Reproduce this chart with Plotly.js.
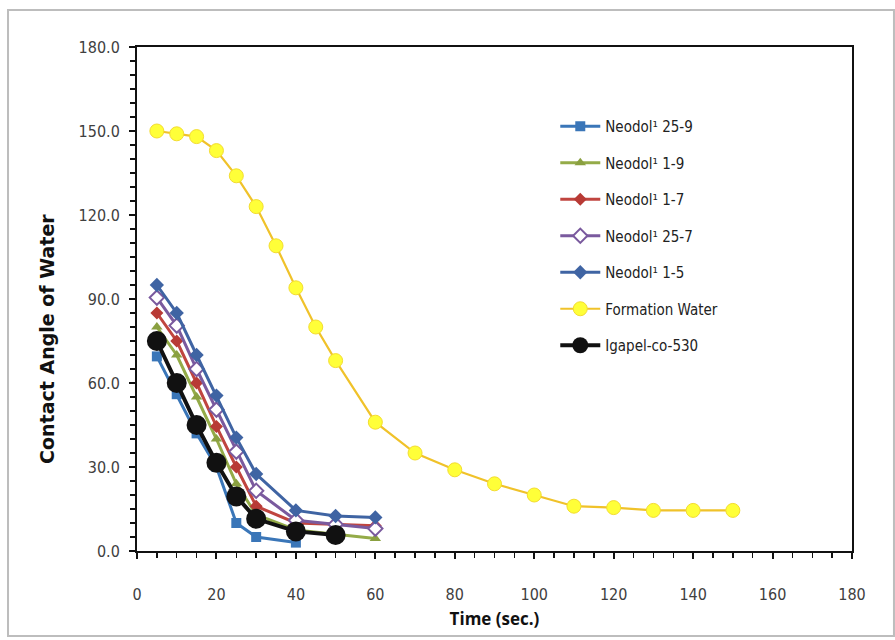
<!DOCTYPE html>
<html>
<head>
<meta charset="utf-8">
<script src="https://cdn.plot.ly/plotly-3.0.1.min.js"></script>
<style>html,body{margin:0;padding:0;background:#fff;}#chart{width:895px;height:640px;}</style>
</head>
<body>
<div id="chart"></div>
<script>
// Time (sec.)
const timeShort = [5, 10, 15, 20, 25, 30, 40, 50, 60];
const time2599 = [5, 10, 15, 20, 25, 30, 40];
const timeIgepal = [5, 10, 15, 20, 25, 30, 40, 50];
const timeFormation = [5, 10, 15, 20, 25, 30, 35, 40, 45, 50, 60, 70, 80, 90, 100, 110, 120, 130, 140, 150];

// Contact angle of water
const neodol259 = [69.5, 56, 42, 30, 10, 5, 3];
const neodol19 = [80, 70, 55, 40, 24, 13, 7.5, 6, 4.5];
const neodol17 = [85, 75, 60, 44.5, 30, 16, 10, 9.5, 9];
const neodol257 = [90.5, 80.5, 65, 50.5, 35.5, 21.5, 11, 9.5, 8];
const neodol15 = [95, 85, 70, 55.5, 40.5, 27.5, 14.5, 12.5, 12];
const formationWater = [150, 149, 148, 143, 134, 123, 109, 94, 80, 68, 46, 35, 29, 24, 20, 16, 15.5, 14.5, 14.5, 14.5];
const igepal530 = [75, 60, 45, 31.5, 19.5, 11.5, 7, 5.7];

const seriesNames = ["Neodol\u00B9 25-9", "Neodol\u00B9 1-9", "Neodol\u00B9 1-7", "Neodol\u00B9 25-7", "Neodol\u00B9 1-5", "Formation Water", "Igapel-co-530"];
const yTicks = [0, 30, 60, 90, 120, 150, 180];
const xTicks = [0, 20, 40, 60, 80, 100, 120, 140, 160, 180];

function tr(name, x, y, lineColor, lineWidth, symbol, mSize, mColor, mLine, mLineW, grp) {
  return {
    type: 'scatter', mode: 'lines+markers', name: name, x: x, y: y,
    legendgroup: grp,
    line: {color: lineColor, width: lineWidth},
    marker: {symbol: symbol, size: mSize, color: mColor, line: {color: mLine, width: mLineW}}
  };
}

const traces = [
  tr(seriesNames[0], time2599, neodol259, '#3a76b8', 3, 'square', 10, '#3a76b8', '#3a76b8', 0, 'g1'),
  tr(seriesNames[1], timeShort, neodol19, '#94ab48', 3, 'triangle-up', 10, '#8aa040', '#8aa040', 0, 'g2'),
  tr(seriesNames[2], timeShort, neodol17, '#c0453f', 3, 'diamond', 10, '#b83a35', '#b83a35', 0, 'g3'),
  tr(seriesNames[3], timeShort, neodol257, '#7a5a9e', 3, 'diamond', 11, '#ffffff', '#7a5a9e', 2, 'g4'),
  tr(seriesNames[4], timeShort, neodol15, '#3f64a3', 3, 'diamond', 11, '#3f64a3', '#3f64a3', 0, 'g5'),
  tr(seriesNames[5], timeFormation, formationWater, '#f0c22a', 2.2, 'circle', 14, '#ffff38', '#f3dc30', 1, 'g6'),
  tr(seriesNames[6], timeIgepal, igepal530, '#111111', 4, 'circle', 20, '#111111', '#111111', 0, 'g7')
];

const tickFont = {family: '"Liberation Sans Narrow", "DejaVu Sans Condensed", "Open Sans", sans-serif', size: 16, color: '#404040'};

const layout = {
  width: 895, height: 640,
  margin: {l: 137, r: 43, t: 47, b: 89},
  paper_bgcolor: '#ffffff', plot_bgcolor: '#ffffff',
  showlegend: true,
  legend: {
    x: 0.585, y: 0.875, xanchor: 'left', yanchor: 'top',
    traceorder: 'grouped', tracegroupgap: 14,
    font: {family: '"Liberation Sans Narrow", "DejaVu Sans Condensed", "Open Sans", sans-serif', size: 15, color: '#222222'},
    bgcolor: 'rgba(0,0,0,0)', itemwidth: 40
  },
  xaxis: {
    range: [0, 180], tickmode: 'array', tickvals: xTicks, ticktext: xTicks.map(String),
    ticks: 'outside', ticklen: 6, tickwidth: 2, tickcolor: '#111',
    minor: {dtick: 5, ticks: 'outside', ticklen: 5, tickwidth: 1.5, tickcolor: '#111'},
    showline: true, linecolor: '#111', linewidth: 2, mirror: true,
    showgrid: false, zeroline: false, tickfont: tickFont, ticklabelstandoff: 22,
    title: {text: 'Time (sec.)', font: {family: '"Open Sans", sans-serif', size: 17, color: '#111', weight: 'bold'}, standoff: 10}
  },
  yaxis: {
    range: [0, 180], tickmode: 'array', tickvals: yTicks, ticktext: yTicks.map(v => v.toFixed(1)),
    ticks: 'outside', ticklen: 6, tickwidth: 2, tickcolor: '#111',
    minor: {dtick: 5, ticks: 'outside', ticklen: 5, tickwidth: 1.5, tickcolor: '#111'},
    showline: true, linecolor: '#111', linewidth: 2, mirror: true,
    showgrid: false, zeroline: false, tickfont: tickFont, ticklabelstandoff: 6
  },
  annotations: [{
    text: 'Contact Angle of Water', textangle: -90, xref: 'paper', yref: 'paper',
    x: -0.125, y: 0.42, xanchor: 'center', yanchor: 'middle', showarrow: false,
    font: {family: '"DejaVu Sans", sans-serif', size: 19, color: '#111', weight: 'bold'}
  }],
  shapes: [{
    type: 'rect', xref: 'paper', yref: 'paper',
    x0: -0.1804, x1: 1.0587, y0: -0.1687, y1: 1.0734,
    line: {color: '#bdbdbd', width: 2}, fillcolor: 'rgba(0,0,0,0)', layer: 'below'
  }]
};

Plotly.newPlot('chart', traces, layout, {displayModeBar: false, staticPlot: true});
</script>
</body>
</html>
